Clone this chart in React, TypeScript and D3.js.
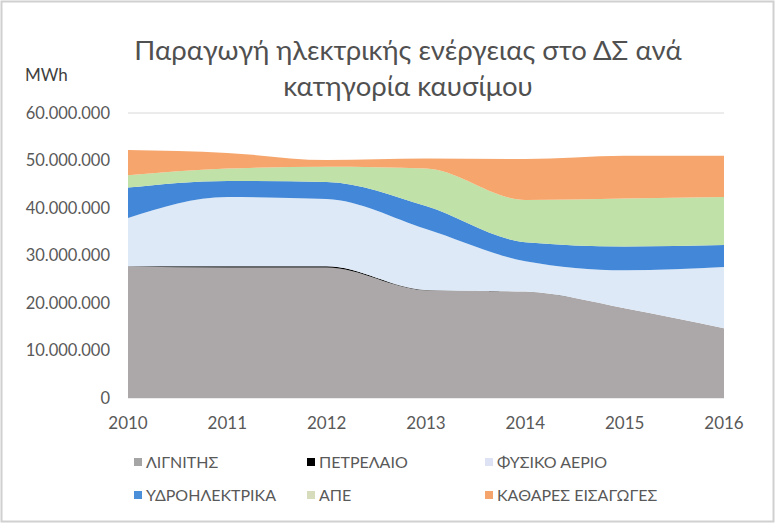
import React from "react";
import * as d3 from "d3";

const years = ["2010", "2011", "2012", "2013", "2014", "2015", "2016"];
const seriesNames = ["ΛΙΓΝΙΤΗΣ", "ΠΕΤΡΕΛΑΙΟ", "ΦΥΣΙΚΟ ΑΕΡΙΟ", "ΥΔΡΟΗΛΕΚΤΡΙΚΑ", "ΑΠΕ", "ΚΑΘΑΡΕΣ ΕΙΣΑΓΩΓΕΣ"];
const lignite = [27700000, 27500000, 27500000, 22700000, 22400000, 18900000, 14700000];
const petroleum = [50000, 250000, 250000, 60000, 0, 0, 0];
const naturalGas = [10150000, 14550000, 14150000, 12840000, 6400000, 8000000, 12900000];
const hydro = [6400000, 3400000, 3600000, 4800000, 4000000, 5000000, 4600000];
const res = [2600000, 2600000, 3200000, 7900000, 8900000, 10100000, 10100000];
const imports = [5300000, 3300000, 1400000, 2100000, 8600000, 9000000, 8700000];
const yTicks = [0, 10000000, 20000000, 30000000, 40000000, 50000000, 60000000];
const colors = ["#aca8a9", "#000000", "#dde9f7", "#4388d8", "#c0e1a7", "#f6a66c"];
const legendColors = ["#a5a5a5", "#000000", "#dde3f5", "#4a8fd8", "#d7dcbc", "#f5a46c"];

const W = 778, H = 525;
const left = 128, right = 724, top = 113, bottom = 398;
const font = "Lato, 'Open Sans', sans-serif";

function fmt(v: number) {
  return d3.format(",")(v).replace(/,/g, ".");
}

export default function App() {
  const allSeries = [lignite, petroleum, naturalGas, hydro, res, imports];
  const rows = years.map((y, i) => {
    const r: any = { year: y };
    seriesNames.forEach((n, k) => (r[n] = allSeries[k][i]));
    return r;
  });
  const stack = d3.stack<any>().keys(seriesNames)(rows);
  const x = d3.scalePoint<string>().domain(years).range([left, right]);
  const y = d3.scaleLinear().domain([0, 60000000]).range([bottom, top]);
  const area = d3
    .area<any>()
    .x((d) => x(d.data.year) as number)
    .y0((d) => y(d[0]))
    .y1((d) => y(d[1]))
    .curve(d3.curveMonotoneX);

  const legendX = [134, 307, 485];
  const legendY = [462, 495];

  return (
    <svg width={W} height={H} style={{ position: "absolute", left: 0, top: 0 }}>
      <rect x={0} y={0} width={W} height={H} fill="#ffffff" />
      <rect x={1.5} y={1.5} width={772} height={520} fill="#ffffff" stroke="#d0d0d0" strokeWidth={2} />
      <text x={408} y={60} textAnchor="middle" fontFamily={font} fontSize={27.5} fill="#505050">
        Παραγωγή ηλεκτρικής ενέργειας στο ΔΣ ανά
      </text>
      <text x={408} y={96} textAnchor="middle" fontFamily={font} fontSize={27.5} fill="#505050">
        κατηγορία καυσίμου
      </text>
      <text x={25} y={81} fontFamily={font} fontSize={17} fill="#404040">
        MWh
      </text>
      {yTicks.map((t) => (
        <g key={t}>
          <line x1={left} x2={right} y1={y(t)} y2={y(t)} stroke="#d9d9d9" strokeWidth={1} />
          <text x={110} y={y(t) + 5.5} textAnchor="end" fontFamily={font} fontSize={16.5} fill="#595959">
            {fmt(t)}
          </text>
        </g>
      ))}
      {stack.map((s, k) => (
        <path key={seriesNames[k]} d={area(s) as string} fill={colors[k]} />
      ))}
      {years.map((yr) => (
        <text key={yr} x={x(yr)} y={429} textAnchor="middle" fontFamily={font} fontSize={17} fill="#595959">
          {yr}
        </text>
      ))}
      {seriesNames.map((n, k) => {
        const lx = legendX[k % 3];
        const ly = legendY[Math.floor(k / 3)];
        return (
          <g key={n}>
            <rect x={lx} y={ly - 4} width={8} height={8} fill={legendColors[k]} />
            <text x={lx + 12} y={ly + 6} fontFamily={font} fontSize={16} fill="#595959">
              {n}
            </text>
          </g>
        );
      })}
    </svg>
  );
}
